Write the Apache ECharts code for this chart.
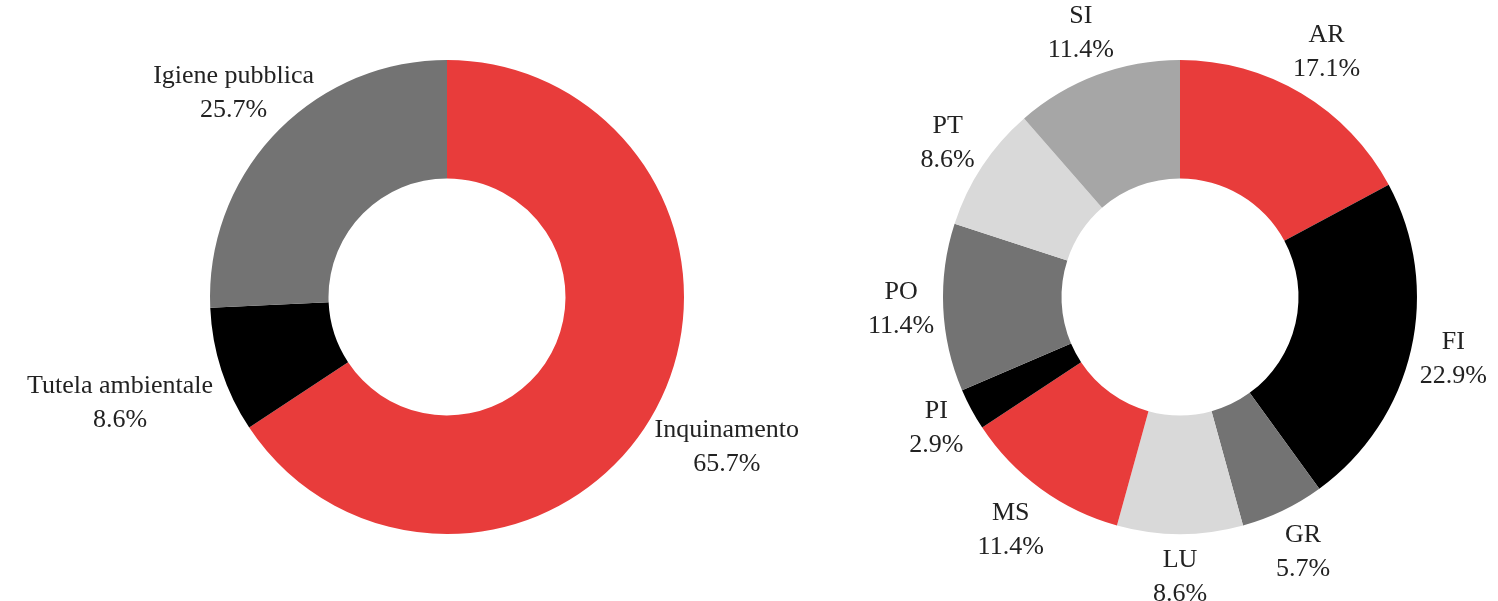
<!DOCTYPE html>
<html>
<head>
<meta charset="utf-8">
<script src="https://cdn.jsdelivr.net/npm/echarts@6/dist/echarts.min.js"></script>
<style>
  html, body { margin: 0; padding: 0; background: #fff; }
  #chart { width: 1498px; height: 601px; }
</style>
</head>
<body>
<div id="chart"></div>
<script>
// ambito degli interventi
const ambitoNames = ['Inquinamento', 'Tutela ambientale', 'Igiene pubblica']
const ambitoValues = [23, 3, 9]
const ambitoColors = ['#e83c3b', '#000000', '#737373']

// province
const provNames = ['AR', 'FI', 'GR', 'LU', 'MS', 'PI', 'PO', 'PT', 'SI']
const provValues = [6, 8, 2, 3, 4, 1, 4, 3, 4]
const provColors = ['#e83c3b', '#000000', '#737373', '#d9d9d9', '#e83c3b', '#000000', '#737373', '#d9d9d9', '#a6a6a6']

const R = 237
const GAP = 9

// etichette "outside end": centro del testo lungo la bisettrice dello spicchio
function outsideEnd (values, cx, cy) {
  const total = values.reduce((a, b) => a + b, 0)
  return function (params) {
    const i = params.dataIndex
    let before = 0
    for (let k = 0; k < i; k++) before += values[k]
    const mid = (before + values[i] / 2) / total * Math.PI * 2
    const dx = Math.sin(mid)
    const dy = -Math.cos(mid)
    const w = params.labelRect.width / 2
    const h = params.labelRect.height / 2
    const d = Math.min(
      Math.abs(dx) > 1e-6 ? w / Math.abs(dx) : Infinity,
      Math.abs(dy) > 1e-6 ? h / Math.abs(dy) : Infinity
    )
    return {
      x: cx + dx * (R + GAP + d),
      y: cy + dy * (R + GAP + d),
      align: 'center',
      verticalAlign: 'middle'
    }
  }
}

function makeSeries (names, values, colors, cx, cy) {
  const total = values.reduce((a, b) => a + b, 0)
  return {
    type: 'pie',
    center: [cx, cy],
    radius: [R / 2, R],
    startAngle: 90,
    clockwise: true,
    silent: true,
    avoidLabelOverlap: false,
    itemStyle: { borderColor: '#fff', borderWidth: 0 },
    label: {
      show: true,
      position: 'outside',
      fontFamily: 'Liberation Serif',
      fontSize: 26,
      lineHeight: 34,
      color: '#222',
      formatter: p => p.name + '\n' + (p.value / total * 100).toFixed(1) + '%'
    },
    labelLine: { show: false },
    labelLayout: outsideEnd(values, cx, cy),
    data: names.map((n, i) => ({ name: n, value: values[i], itemStyle: { color: colors[i] } }))
  }
}

const chart = echarts.init(document.getElementById('chart'))
chart.setOption({
  animation: false,
  series: [
    makeSeries(ambitoNames, ambitoValues, ambitoColors, 447, 297),
    makeSeries(provNames, provValues, provColors, 1180, 297)
  ]
})
</script>
</body>
</html>
